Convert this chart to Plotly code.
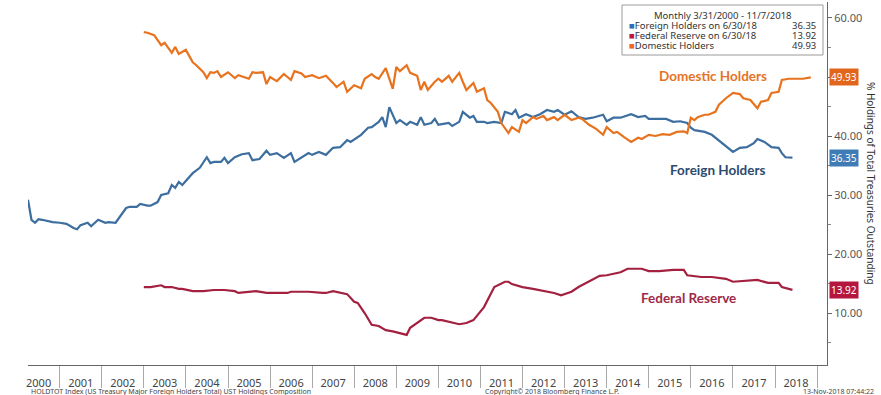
import plotly.graph_objects as go

# ---------------- data ----------------
foreign_dates = ["2000-04","2000-05","2000-06","2000-07","2000-08","2000-11","2001-01","2001-03","2001-05","2001-06",
                 "2001-07","2001-08","2001-09","2001-10","2001-12","2002-02","2002-03","2002-05","2002-06","2002-08",
                 "2002-09","2002-11","2002-12","2003-02","2003-03","2003-05","2003-06","2003-08","2003-09","2003-10",
                 "2003-11","2003-12","2004-03","2004-05","2004-07","2004-08","2004-09","2004-11","2004-12","2005-01",
                 "2005-03","2005-05","2005-07","2005-08","2005-10","2005-12","2006-01","2006-03","2006-05","2006-07",
                 "2006-08","2006-10","2006-12","2007-01","2007-03","2007-05","2007-07","2007-09","2007-11","2007-12",
                 "2008-02","2008-03","2008-05","2008-06","2008-08","2008-09","2008-10","2008-11","2009-01","2009-02",
                 "2009-04","2009-05","2009-07","2009-08","2009-09","2009-11","2009-12","2010-01","2010-02","2010-04",
                 "2010-05","2010-07","2010-08","2010-10","2010-11","2010-12","2011-02","2011-03","2011-05","2011-07",
                 "2011-08","2011-10","2011-11","2011-12","2012-02","2012-04","2012-06","2012-08","2012-10","2012-11",
                 "2013-01","2013-03","2013-05","2013-07","2013-09","2013-12","2014-01","2014-03","2014-05","2014-08",
                 "2014-10","2014-12","2015-01","2015-04","2015-06","2015-08","2015-10","2015-12","2016-01","2016-02",
                 "2016-05","2016-07","2016-10","2017-01","2017-03","2017-05","2017-07","2017-08","2017-10","2017-12",
                 "2018-02","2018-03","2018-04","2018-06"]
foreign_vals = [29.2,25.8,25.3,25.9,25.8,25.4,25.3,25.1,24.4,24.2,
                24.9,25.1,25.3,24.7,25.8,25.3,25.4,25.3,26.1,27.8,
                28.0,28.0,28.5,28.2,28.2,28.8,30.0,30.3,31.7,31.2,
                32.2,31.7,33.7,34.6,36.4,35.4,35.6,35.6,36.3,35.4,
                36.4,36.9,37.1,35.9,36.1,37.5,36.8,37.1,36.3,37.1,
                35.6,36.4,37.1,36.8,37.3,36.8,38.0,38.1,39.3,39.0,
                39.8,40.2,41.4,41.5,42.4,43.2,41.5,44.9,42.2,42.7,
                41.9,42.4,41.9,43.2,41.9,42.2,42.9,41.9,42.0,42.2,
                41.7,42.4,44.1,43.1,43.4,42.4,42.4,42.2,42.4,42.2,
                44.1,43.7,44.4,43.1,43.7,43.2,43.7,44.4,44.1,44.4,
                43.6,44.2,43.2,42.9,43.1,43.6,42.5,43.1,43.1,43.7,
                43.2,43.4,42.9,42.9,42.9,42.4,42.5,42.2,41.4,41.0,
                40.7,40.2,38.8,37.3,38.0,38.1,38.8,39.5,39.0,38.1,
                38.0,37.1,36.4,36.35]

domestic_dates = ["2003-01","2003-02","2003-04","2003-05","2003-06","2003-07","2003-09","2003-10","2003-11","2004-01",
                  "2004-03","2004-04","2004-06","2004-07","2004-08","2004-09","2004-10","2004-11","2005-01","2005-03",
                  "2005-04","2005-07","2005-08","2005-09","2005-11","2005-12","2006-01","2006-03","2006-05","2006-06",
                  "2006-07","2006-08","2006-10","2006-11","2007-01","2007-03","2007-05","2007-07","2007-08","2007-10",
                  "2007-11","2008-01","2008-03","2008-04","2008-06","2008-07","2008-08","2008-10","2008-11","2008-12",
                  "2009-01","2009-02","2009-04","2009-05","2009-07","2009-08","2009-09","2009-10","2009-12","2010-01",
                  "2010-02","2010-04","2010-05","2010-07","2010-08","2010-09","2010-11","2010-12","2011-02","2011-03",
                  "2011-04","2011-06","2011-07","2011-09","2011-10","2011-12","2012-01","2012-02","2012-04","2012-05",
                  "2012-07","2012-08","2012-10","2012-11","2013-01","2013-03","2013-05","2013-06","2013-08","2013-10",
                  "2013-12","2014-01","2014-03","2014-04","2014-06","2014-08","2014-10","2014-11","2015-01","2015-03",
                  "2015-05","2015-07","2015-09","2015-11","2015-12","2016-01","2016-02","2016-03","2016-05","2016-06",
                  "2016-08","2016-09","2016-11","2017-01","2017-03","2017-04","2017-06","2017-08","2017-09","2017-11",
                  "2017-12","2018-02","2018-03","2018-05","2018-07","2018-09","2018-11-07"]
domestic_vals = [57.6,57.5,57.1,56.3,55.4,55.8,54.1,55.1,53.9,54.6,
                 52.5,52.0,50.8,49.8,50.8,50.7,51.0,50.0,50.8,49.8,
                 50.3,49.7,50.8,50.7,50.8,48.8,50.0,49.3,50.5,50.0,
                 49.5,51.0,50.6,50.0,50.3,49.8,50.2,49.0,48.3,49.2,
                 47.5,48.6,48.1,49.7,50.5,50.0,49.7,51.5,49.5,48.0,
                 51.7,51.0,52.0,50.7,50.2,47.8,49.2,47.8,49.2,49.7,
                 49.2,50.2,49.2,50.7,49.2,47.8,49.0,47.5,48.1,46.1,
                 45.6,44.1,42.2,40.5,41.5,40.7,42.7,42.2,43.2,42.9,
                 43.4,42.7,43.2,42.7,43.6,42.7,43.1,42.9,41.9,41.2,
                 40.2,41.5,40.5,40.7,39.8,39.0,39.7,39.5,40.2,40.0,
                 40.3,40.2,40.7,40.8,40.5,43.1,42.7,43.2,43.6,43.6,
                 44.1,45.3,46.4,47.3,47.1,46.4,46.1,44.7,45.8,46.1,
                 47.3,47.5,49.5,49.7,49.7,49.7,49.93]

fed_dates = ["2003-01","2003-03","2003-06","2003-07","2003-09","2003-11","2003-12","2004-03","2004-06","2004-09",
             "2004-12","2005-03","2005-04","2005-07","2005-09","2005-12","2006-03","2006-06","2006-07","2006-12",
             "2007-04","2007-05","2007-07","2007-09","2007-11","2008-01","2008-02","2008-04","2008-06","2008-08",
             "2008-10","2008-12","2009-02","2009-04","2009-05","2009-07","2009-09","2009-11","2010-01","2010-02",
             "2010-04","2010-07","2010-09","2010-11","2011-02","2011-05","2011-08","2011-09","2011-10","2012-01",
             "2012-04","2012-07","2012-10","2012-12","2013-03","2013-05","2013-08","2013-11","2014-01","2014-03",
             "2014-05","2014-07","2014-11","2015-01","2015-04","2015-08","2015-11","2015-12","2016-04","2016-07",
             "2016-11","2017-01","2017-05","2017-08","2017-11","2018-02","2018-03","2018-06"]
fed_vals = [14.4,14.4,14.7,14.4,14.4,14.1,14.1,13.7,13.7,13.9,
            13.9,13.7,13.4,13.6,13.7,13.4,13.4,13.4,13.6,13.6,
            13.4,13.4,13.7,13.4,13.2,11.9,11.7,10.0,8.0,7.8,
            7.1,6.9,6.6,6.3,7.5,8.3,9.2,9.2,8.8,8.8,
            8.5,8.1,8.3,8.8,11.0,14.4,15.3,15.3,14.9,14.4,
            14.1,13.7,13.4,13.0,13.6,14.4,15.3,16.3,16.4,16.6,
            16.9,17.5,17.5,17.1,17.1,17.3,17.3,16.4,16.1,16.1,
            15.8,15.3,15.4,15.6,15.1,15.1,14.4,13.92]

y_ticks = [10, 20, 30, 40, 50, 60]
y_minor = [5, 15, 25, 35, 45, 55]
hidden_tick = 50

series_names = ["Foreign Holders", "Federal Reserve", "Domestic Holders"]
legend_names = ["Foreign Holders on 6/30/18", "Federal Reserve on 6/30/18", "Domestic Holders"]
last_values = [36.35, 13.92, 49.93]
legend_header = "Monthly 3/31/2000 - 11/7/2018"

# ---------------- style ----------------
C_FOREIGN = "#3C6E9F"
C_FED = "#A3203F"
C_DOM = "#E8731F"
BADGE = {"Foreign Holders": "#3F7CB6", "Federal Reserve": "#B5163E", "Domestic Holders": "#E2651C"}
LEG_SQ = {"Foreign Holders": "#2E6DB4", "Federal Reserve": "#C0143C", "Domestic Holders": "#F26522"}
LABEL_COL = {"Foreign Holders": "#2C4A6E", "Federal Reserve": "#9E2A47", "Domestic Holders": "#E57327"}
FONT = "Noto Sans, sans-serif"

W, H = 881, 395
ML, MR, MT, MB = 28, 54, 2, 30
PW, PH = W - ML - MR, H - MT - MB

def px(x):
    return (x - ML) / PW

def py(y):
    return (H - MB - y) / PH

fig = go.Figure()
series = {
    "Foreign Holders": (foreign_dates, foreign_vals, C_FOREIGN),
    "Federal Reserve": (fed_dates, fed_vals, C_FED),
    "Domestic Holders": (domestic_dates, domestic_vals, C_DOM),
}
for name in ["Federal Reserve", "Foreign Holders", "Domestic Holders"]:
    d, v, c = series[name]
    fig.add_trace(go.Scatter(x=d, y=v, mode="lines", name=name,
                             line=dict(color=c, width=2.2), showlegend=False,
                             hoverinfo="x+y"))

ann = []
# in-plot series labels
label_pos = {"Domestic Holders": ("2016-07-12", 50.2),
             "Foreign Holders": ("2016-08-18", 34.2),
             "Federal Reserve": ("2015-12-10", 12.5)}
for name, (lx, ly) in label_pos.items():
    ann.append(dict(x=lx, y=ly, xref="x", yref="y", text="<b>%s</b>" % name, showarrow=False,
                    xanchor="center", yanchor="middle",
                    font=dict(family="Lato, Open Sans, sans-serif", size=13.5, color=LABEL_COL[name])))

# value badges on right axis
for name, val in zip(series_names, last_values):
    ann.append(dict(x=1, y=val, xref="paper", yref="y", xanchor="left", yanchor="middle",
                    xshift=2, text="%.2f" % val, showarrow=False, bgcolor=BADGE[name],
                    borderpad=1, font=dict(family=FONT, size=10, color="white")))

# legend box content
ann.append(dict(x=px(723), y=py(15), xref="paper", yref="paper", text=legend_header, showarrow=False,
                xanchor="center", yanchor="middle",
                font=dict(family=FONT, size=9.5, color="#333")))
for i, (name, lname, val) in enumerate(zip(series_names, legend_names, last_values)):
    yy = py(25.5 + 10.2 * i)
    ann.append(dict(x=px(627), y=yy, xref="paper", yref="paper", xanchor="left", yanchor="middle",
                    showarrow=False,
                    text='<span style="color:%s">■</span>%s' % (LEG_SQ[name], lname),
                    font=dict(family=FONT, size=9.5, color="#333")))
    ann.append(dict(x=px(818), y=yy, xref="paper", yref="paper", xanchor="right", yanchor="middle",
                    showarrow=False, text="%.2f" % val,
                    font=dict(family=FONT, size=9.5, color="#333")))

# right axis title
ann.append(dict(x=px(871), y=py(183), xref="paper", yref="paper", textangle=90, showarrow=False,
                xanchor="center", yanchor="middle",
                text="% Holdings of Total Treasuries Outstanding",
                font=dict(family=FONT, size=10, color="#333")))

# footer
foot = dict(family=FONT, size=7, color="#444")
ann.append(dict(x=px(29), y=py(391), xref="paper", yref="paper", xanchor="left", yanchor="middle",
                showarrow=False, font=foot,
                text="HOLDTOT Index (US Treasury Major Foreign Holders Total) UST Holdings Composition"))
ann.append(dict(x=px(483), y=py(391), xref="paper", yref="paper", xanchor="left", yanchor="middle",
                showarrow=False, font=foot, text="Copyright© 2018 Bloomberg Finance L.P."))
ann.append(dict(x=px(876), y=py(391), xref="paper", yref="paper", xanchor="right", yanchor="middle",
                showarrow=False, font=foot, text="13-Nov-2018 07:44:22"))

shapes = [dict(type="rect", xref="paper", yref="paper", x0=px(622), x1=px(823), y0=py(55), y1=py(5),
               line=dict(color="#9a9a9a", width=1), fillcolor="rgba(255,255,255,0.95)", layer="above")]

fig.update_layout(
    width=W, height=H, margin=dict(l=ML, r=MR, t=MT, b=MB, autoexpand=False),
    paper_bgcolor="white", plot_bgcolor="white",
    annotations=ann, shapes=shapes, showlegend=False,
    xaxis=dict(type="date", range=["2000-04-01", "2019-03-28"], tick0="2000-01-01", dtick="M12",
               tickformat="%Y", ticklabelmode="period", ticks="outside", ticklen=22, tickcolor="#aaa",
               ticklabelstandoff=-14, automargin=False,
               showline=True, linecolor="#666", linewidth=1, showgrid=False, zeroline=False,
               tickfont=dict(family=FONT, size=11, color="#444")),
    yaxis=dict(side="right", range=[1.19, 62.71], tickvals=y_ticks, automargin=False,
               ticktext=["" if t == hidden_tick else "%.2f" % t for t in y_ticks],
               ticks="outside", ticklen=4, tickcolor="#666",
               minor=dict(tickvals=y_minor, ticks="outside", ticklen=3, tickcolor="#888"),
               showline=True, linecolor="#666", linewidth=1, showgrid=False, zeroline=False,
               tickfont=dict(family=FONT, size=11, color="#555")),
)

# the page's default 8px body margin would shift the figure; remove it
fig.write_html("out.html", config={"displayModeBar": False},
               post_script="document.body.style.margin='0';document.body.style.overflow='hidden';")
